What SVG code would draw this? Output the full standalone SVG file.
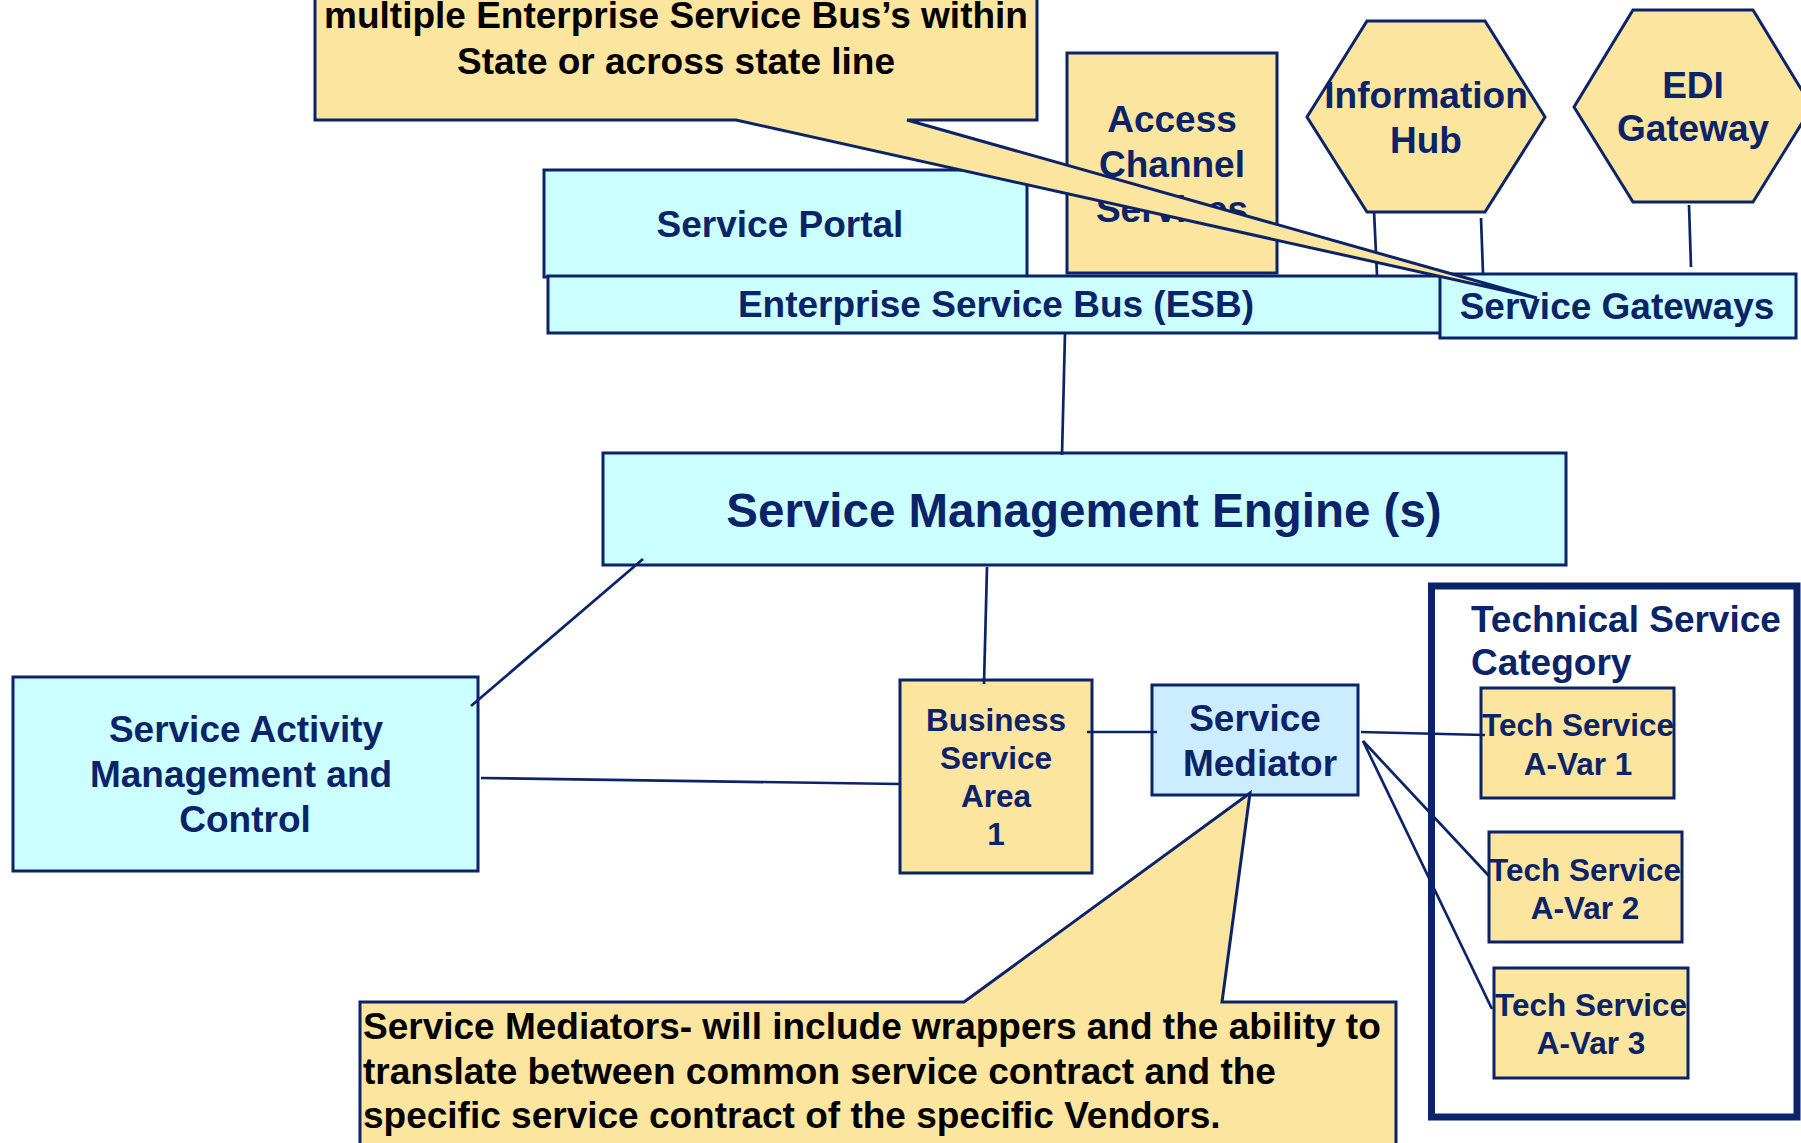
<svg xmlns="http://www.w3.org/2000/svg" width="1801" height="1143" viewBox="0 0 1801 1143">
<style>
.t{font-family:"Liberation Sans",Arial,sans-serif;font-weight:bold;fill:#0B2369;}
.b{font-family:"Liberation Sans",Arial,sans-serif;font-weight:bold;fill:#000;}
.c{text-anchor:middle;}
.f37{font-size:37px;}
.f31{font-size:31.5px;}
.cy{fill:#CCFFFF;stroke:#0B2369;stroke-width:3;}
.ye{fill:#FCE59E;stroke:#0B2369;stroke-width:3;}
.md{fill:#CCECFF;stroke:#0B2369;stroke-width:3;}
.ln{stroke:#0B2369;stroke-width:2.7;fill:none;}
</style>
<rect width="1801" height="1143" fill="#fff"/>

<g id="access-channel">
<rect class="ye" x="1067" y="53" width="210" height="220"/>
<text class="t c f37" x="1172" y="132">Access</text>
<text class="t c f37" x="1172" y="177">Channel</text>
<text class="t c f37" x="1172" y="222">Services</text>
</g>
<g id="information-hub">
<polygon class="ye" points="1367,21 1485,21 1545,117 1485,212 1367,212 1307,117"/>
<text class="t c f37" x="1426" y="108">Information</text>
<text class="t c f37" x="1426" y="153">Hub</text>
</g>
<g id="edi-gateway">
<polygon class="ye" points="1633,10 1753,10 1812,107 1753,202 1633,202 1574,107"/>
<text class="t c f37" x="1693" y="98">EDI</text>
<text class="t c f37" x="1693" y="141">Gateway</text>
</g>
<g id="service-portal">
<rect class="cy" x="544" y="170" width="483" height="107"/>
<text class="t c f37" x="780" y="237">Service Portal</text>
</g>
<g id="esb">
<rect class="cy" x="548" y="276" width="897" height="57"/>
<text class="t c f37" x="996" y="317">Enterprise Service Bus (ESB)</text>
</g>
<g id="service-gateways">
<rect class="cy" x="1440" y="274" width="356" height="64"/>
<text class="t c f37" x="1617" y="319">Service Gateways</text>
</g>
<g id="sme">
<rect class="cy" x="603" y="453" width="963" height="112"/>
<text class="t c" style="font-size:47.5px" x="1084" y="527">Service Management Engine (s)</text>
</g>
<g id="service-activity">
<rect class="cy" x="13" y="677" width="465" height="194"/>
<text class="t c f37" x="246" y="742">Service Activity</text>
<text class="t c f37" x="241" y="787">Management and</text>
<text class="t c f37" x="245" y="832">Control</text>
</g>
<g id="business-service-area">
<rect class="ye" x="900" y="680" width="192" height="193"/>
<text class="t c f31" x="996" y="731">Business</text>
<text class="t c f31" x="996" y="769">Service</text>
<text class="t c f31" x="996" y="807">Area</text>
<text class="t c f31" x="996" y="845">1</text>
</g>
<g id="service-mediator">
<rect class="md" x="1152" y="685" width="206" height="110"/>
<text class="t c f37" x="1255" y="731">Service</text>
<text class="t c f37" x="1260" y="776">Mediator</text>
</g>
<g id="technical-service-category">
<rect x="1431.5" y="586" width="365.5" height="531" fill="none" stroke="#0B2369" stroke-width="7"/>
<text class="t f37" x="1471" y="632">Technical Service</text>
<text class="t f37" x="1471" y="675">Category</text>
</g>
<g id="tech-a-var-1">
<rect class="ye" x="1481" y="688" width="193" height="110"/>
<text class="t c f31" x="1578" y="736">Tech Service</text>
<text class="t c f31" x="1578" y="775">A-Var 1</text>
</g>
<g id="tech-a-var-2">
<rect class="ye" x="1489" y="832" width="193" height="110"/>
<text class="t c f31" x="1585" y="881">Tech Service</text>
<text class="t c f31" x="1585" y="919">A-Var 2</text>
</g>
<g id="tech-a-var-3">
<rect class="ye" x="1494" y="968" width="194" height="110"/>
<text class="t c f31" x="1591" y="1016">Tech Service</text>
<text class="t c f31" x="1591" y="1054">A-Var 3</text>
</g>

<g id="connectors">
<line class="ln" x1="1374" y1="211" x2="1377" y2="275"/>
<line class="ln" x1="1481" y1="218" x2="1483" y2="273"/>
<line class="ln" x1="1689" y1="205" x2="1691" y2="267"/>
<line class="ln" x1="1065" y1="333" x2="1062" y2="455"/>
<line class="ln" x1="643" y1="559" x2="471" y2="706"/>
<line class="ln" x1="481" y1="778" x2="900" y2="784"/>
<line class="ln" x1="987" y1="567" x2="984" y2="684"/>
<line class="ln" x1="1087" y1="732" x2="1157" y2="732"/>
<line class="ln" x1="1361" y1="732" x2="1485" y2="735"/>
<line class="ln" x1="1363" y1="741" x2="1489" y2="876"/>
<line class="ln" x1="1363" y1="741" x2="1492" y2="1009"/>
</g>

<g id="callout-esb">
<polygon class="ye" points="315,-40 1037,-40 1037,120 907,120 1537,298 736,120 315,120"/>
<text class="b c f37" x="676" y="28">multiple Enterprise Service Bus’s within</text>
<text class="b c f37" x="676" y="74">State or across state line</text>
</g>
<g id="callout-mediators">
<polygon class="ye" points="360,1002 964,1002 1250,793 1222,1002 1396,1002 1396,1160 360,1160"/>
<text class="b f37" x="363" y="1039">Service Mediators- will include wrappers and the ability to</text>
<text class="b f37" x="363" y="1084">translate between common service contract and the</text>
<text class="b f37" x="363" y="1128">specific service contract of the specific Vendors.</text>
</g>
</svg>
